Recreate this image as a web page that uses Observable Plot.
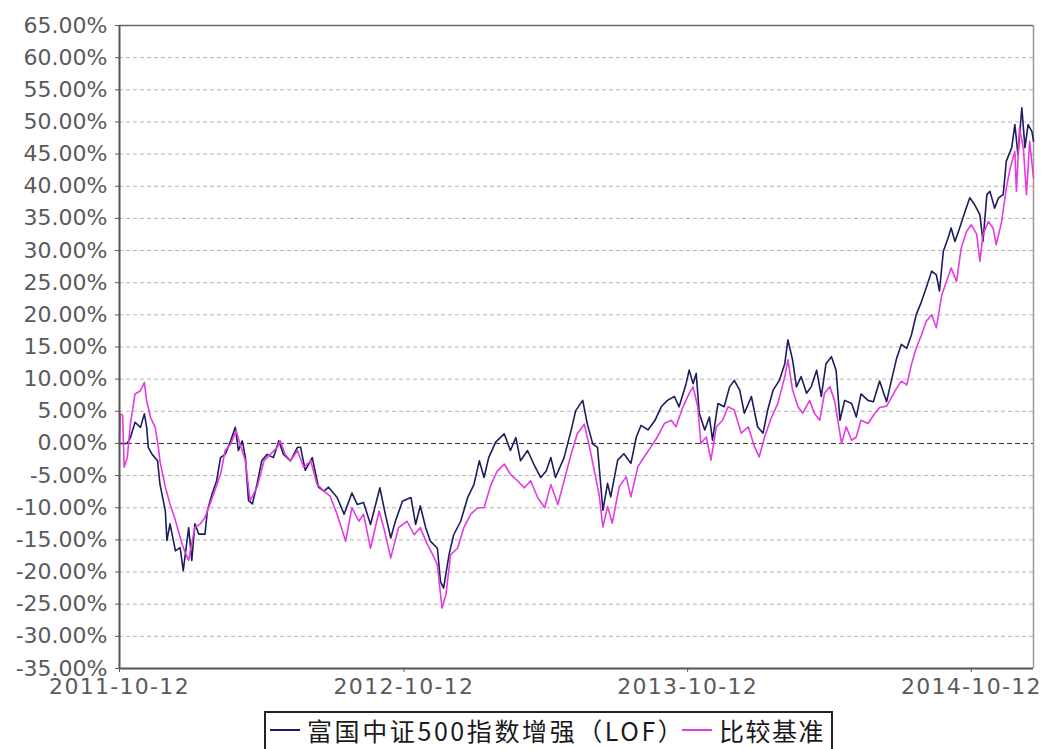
<!DOCTYPE html>
<html>
<head>
<meta charset="utf-8">
<script src="https://cdn.jsdelivr.net/npm/d3@7"></script>
<script src="https://cdn.jsdelivr.net/npm/@observablehq/plot@0.6"></script>
<style>
  html, body { margin: 0; padding: 0; background: #fff; }
  #wrap { position: relative; width: 1041px; height: 749px; overflow: hidden; background: #fff; }
  #chart { position: absolute; left: 0; top: 0; }
  #chart g[aria-label="x-axis tick label"] text { letter-spacing: 1.3px; }
  #legend {
    position: absolute; left: 264px; top: 711px; width: 569px; height: 60px;
    box-sizing: border-box; border: 2px solid #222; background: #fff;
    font-family: "Noto Sans CJK SC", sans-serif; font-size: 25px; color: #1a1a1a;
  }
  #legend .row { position: absolute; left: 0; top: 0; height: 34px; width: 100%; }
  #legend .item { position: absolute; top: 0; height: 34px; display: flex; align-items: center; white-space: nowrap; line-height: 1; }
  #legend .sw { display: inline-block; width: 30px; height: 2px; margin-right: 7px; }
  #legend .tx { display: inline-block; line-height: 25px; height: 25px; }
</style>
</head>
<body>
<div id="wrap">
  <div id="chart"></div>
  <div id="legend"><div class="row"></div></div>
</div>
<script>
const seriesNames = ["富国中证500指数增强（LOF）", "比较基准"];
const seriesColors = ["#1c1c5e", "#e23ce2"];

const yTicks = [-35, -30, -25, -20, -15, -10, -5, 0, 5, 10, 15, 20, 25, 30, 35, 40, 45, 50, 55, 60, 65];
const xTicks = ["2011-10-12", "2012-10-12", "2013-10-12", "2014-10-12"];
const xDomain = ["2011-10-12", "2014-12-31"];

const fundDates = [
"2011-10-12","2011-10-22","2011-10-26","2011-11-01","2011-11-08","2011-11-13","2011-11-16","2011-11-18","2011-11-23","2011-11-30",
"2011-12-03","2011-12-10","2011-12-12","2011-12-16","2011-12-23","2011-12-29","2012-01-02","2012-01-09","2012-01-13","2012-01-17",
"2012-01-22","2012-01-30","2012-02-02","2012-02-08","2012-02-14","2012-02-19","2012-02-25","2012-03-03","2012-03-09","2012-03-13",
"2012-03-18","2012-03-22","2012-03-26","2012-03-31","2012-04-06","2012-04-12","2012-04-19","2012-04-27","2012-05-04","2012-05-10",
"2012-05-19","2012-05-28","2012-06-01","2012-06-07","2012-06-16","2012-06-24","2012-07-01","2012-07-07","2012-07-18","2012-07-27",
"2012-08-06","2012-08-13","2012-08-21","2012-08-30","2012-09-11","2012-09-18","2012-09-25","2012-10-01","2012-10-10","2012-10-21",
"2012-10-27","2012-11-02","2012-11-09","2012-11-15","2012-11-24","2012-11-28","2012-12-02","2012-12-09","2012-12-15","2012-12-24",
"2013-01-02","2013-01-10","2013-01-17","2013-01-23","2013-01-29","2013-02-07","2013-02-18","2013-02-26","2013-03-05","2013-03-11",
"2013-03-20","2013-03-28","2013-04-06","2013-04-13","2013-04-19","2013-04-25","2013-05-06","2013-05-15","2013-05-21","2013-05-30",
"2013-06-05","2013-06-12","2013-06-18","2013-06-25","2013-07-01","2013-07-05","2013-07-14","2013-07-22","2013-07-31","2013-08-07",
"2013-08-13","2013-08-22","2013-08-31","2013-09-08","2013-09-16","2013-09-25","2013-10-01","2013-10-10","2013-10-14","2013-10-19",
"2013-10-23","2013-10-27","2013-11-03","2013-11-09","2013-11-13","2013-11-20","2013-11-28","2013-12-05","2013-12-11","2013-12-18",
"2013-12-24","2014-01-02","2014-01-10","2014-01-17","2014-01-23","2014-01-30","2014-02-07","2014-02-14","2014-02-18","2014-02-24",
"2014-03-01","2014-03-07","2014-03-14","2014-03-20","2014-03-27","2014-04-02","2014-04-08","2014-04-15","2014-04-21","2014-04-26",
"2014-05-02","2014-05-11","2014-05-17","2014-05-23","2014-06-01","2014-06-08","2014-06-16","2014-06-25","2014-07-01","2014-07-08",
"2014-07-14","2014-07-21","2014-07-27","2014-08-02","2014-08-09","2014-08-15","2014-08-22","2014-08-28","2014-09-01","2014-09-06",
"2014-09-12","2014-09-16","2014-09-21","2014-09-27","2014-10-04","2014-10-10","2014-10-16","2014-10-23","2014-10-27","2014-11-01",
"2014-11-05","2014-11-11","2014-11-16","2014-11-22","2014-11-26","2014-12-03","2014-12-07","2014-12-11","2014-12-16","2014-12-20",
"2014-12-24","2014-12-29","2014-12-31"];
const fundValues = [
0,0,0.9,3.3,2.5,4.6,2.5,-0.6,-1.7,-2.7,
-6.3,-10.5,-15.1,-12.5,-16.7,-16.2,-19.8,-13.1,-18.2,-12.5,
-14.1,-14.1,-10.5,-7.9,-5.8,-2.2,-1.7,0.4,2.5,-1.1,
0.4,-2.2,-8.9,-9.4,-6.3,-2.7,-1.7,-2.2,0.4,-1.7,
-2.7,-0.6,-0.6,-4.2,-2.2,-6.8,-7.4,-6.8,-8.4,-11.0,
-7.7,-9.5,-9.2,-12.6,-6.9,-11.0,-14.7,-12.1,-9.0,-8.4,
-12.6,-9.7,-13.1,-15.2,-16.3,-21.5,-22.5,-17.3,-14.2,-12.1,
-8.4,-6.4,-2.7,-5.3,-2.2,0.2,1.5,-1.1,0.9,-2.7,
-1.1,-3.2,-5.3,-4.3,-2.2,-5.3,-2.2,2.0,5.1,6.7,
3.0,-0.1,-0.6,-10.4,-6.2,-8.3,-2.6,-1.6,-3.1,1.0,
2.8,2.1,3.6,5.7,6.7,7.3,5.7,9.3,11.4,9.3,
10.9,4.7,2.1,4.1,0.5,6.2,5.7,8.8,9.8,8.3,
4.7,7.3,2.6,1.6,5.2,8.3,9.8,12.4,16.1,13.0,
8.8,10.4,7.8,8.8,11.4,7.3,12.4,13.5,11.4,3.6,
6.7,6.2,4.1,7.7,6.7,6.5,9.7,6.5,9.7,13.3,
15.4,14.8,16.9,20.0,22.1,24.2,26.8,26.2,23.7,29.9,
31.9,33.5,31.4,33.5,36.1,38.2,37.2,35.6,31.4,38.7,
39.2,36.6,38.2,38.7,43.9,46.0,49.6,44.9,52.2,46.0,
49.6,48.5,47.0];

const benchDates = [
"2011-10-12","2011-10-13","2011-10-16","2011-10-18","2011-10-22","2011-10-26","2011-11-01","2011-11-08","2011-11-13","2011-11-16",
"2011-11-21","2011-11-27","2011-12-01","2011-12-03","2011-12-10","2011-12-16","2011-12-23","2011-12-29","2012-01-02","2012-01-09",
"2012-01-13","2012-01-17","2012-01-24","2012-01-30","2012-02-04","2012-02-10","2012-02-19","2012-02-25","2012-03-03","2012-03-10",
"2012-03-15","2012-03-22","2012-03-28","2012-04-06","2012-04-15","2012-04-23","2012-05-02","2012-05-06","2012-05-12","2012-05-19",
"2012-05-28","2012-06-05","2012-06-14","2012-06-22","2012-07-01","2012-07-09","2012-07-18","2012-07-29","2012-08-06","2012-08-15",
"2012-08-21","2012-08-30","2012-09-10","2012-09-16","2012-09-25","2012-10-05","2012-10-16","2012-10-25","2012-11-02","2012-11-11",
"2012-11-18","2012-11-24","2012-11-30","2012-12-05","2012-12-11","2012-12-20","2012-12-28","2013-01-06","2013-01-15","2013-01-23",
"2013-02-01","2013-02-09","2013-02-18","2013-02-26","2013-03-07","2013-03-16","2013-03-24","2013-04-02","2013-04-11","2013-04-19",
"2013-04-28","2013-05-06","2013-05-15","2013-05-23","2013-06-01","2013-06-07","2013-06-14","2013-06-20","2013-06-25","2013-07-01",
"2013-07-07","2013-07-16","2013-07-25","2013-07-31","2013-08-09","2013-08-17","2013-08-26","2013-09-03","2013-09-12","2013-09-21",
"2013-09-27","2013-10-06","2013-10-14","2013-10-19","2013-10-25","2013-10-29","2013-11-05","2013-11-11","2013-11-18","2013-11-26",
"2013-12-03","2013-12-11","2013-12-20","2013-12-29","2014-01-06","2014-01-12","2014-01-19","2014-01-28","2014-02-05","2014-02-14",
"2014-02-18","2014-02-24","2014-03-03","2014-03-09","2014-03-18","2014-03-24","2014-03-31","2014-04-06","2014-04-13","2014-04-19",
"2014-04-28","2014-05-04","2014-05-11","2014-05-17","2014-05-23","2014-06-01","2014-06-10","2014-06-16","2014-06-25","2014-07-01",
"2014-07-08","2014-07-14","2014-07-21","2014-07-27","2014-08-02","2014-08-09","2014-08-15","2014-08-22","2014-08-28","2014-09-04",
"2014-09-10","2014-09-16","2014-09-23","2014-09-29","2014-10-06","2014-10-12","2014-10-19","2014-10-23","2014-10-27","2014-11-03",
"2014-11-09","2014-11-13","2014-11-20","2014-11-26","2014-12-01","2014-12-07","2014-12-09","2014-12-13","2014-12-18","2014-12-22",
"2014-12-26","2014-12-31"];
const benchValues = [
0,4.6,4.4,-3.7,-2.2,3.0,7.7,8.2,9.5,6.6,
4.0,2.5,-0.6,-2.7,-6.8,-9.4,-12.0,-14.6,-16.2,-18.2,
-15.5,-13.1,-12.5,-11.5,-9.9,-7.9,-4.8,-1.1,-0.1,2.0,
-0.1,-2.7,-8.9,-6.8,-2.7,-1.7,-0.6,0.4,-1.7,-2.7,
-1.1,-3.7,-2.7,-6.3,-7.4,-8.2,-11.0,-15.2,-10.0,-12.1,
-11.0,-16.3,-10.5,-13.1,-17.8,-13.1,-12.1,-14.2,-13.1,-15.7,
-17.3,-18.9,-25.6,-23.5,-17.3,-16.3,-13.1,-11.0,-10.0,-10.0,
-6.4,-4.3,-3.2,-4.8,-5.8,-6.9,-5.8,-8.4,-10.0,-6.4,
-9.5,-5.8,-1.7,1.5,3.0,-0.1,-4.3,-7.9,-13.0,-9.8,
-12.4,-6.7,-5.2,-8.3,-3.6,-2.1,-0.5,1.0,3.1,3.6,
2.6,5.7,7.8,8.8,5.7,0,1.0,-2.6,2.6,3.6,
5.7,5.2,1.6,2.6,-0.5,-2.1,1.0,4.1,6.2,10.4,
13.0,8.3,5.7,4.7,6.7,4.7,3.6,7.8,8.8,6.7,
0,2.6,0.5,1.0,3.6,3.1,4.7,5.6,5.8,7.1,
8.6,9.7,9.1,12.3,14.8,16.9,19.0,20.0,18.0,23.1,
25.2,27.3,25.2,30.4,33.0,34.0,32.5,28.3,32.5,34.5,
33.5,30.9,34.5,39.7,42.8,45.4,39.2,49.0,45.9,38.7,
47.0,41.3];

const fund = fundDates.map((d, i) => ({date: new Date(d), value: fundValues[i]}));
const bench = benchDates.map((d, i) => ({date: new Date(d), value: benchValues[i]}));
const x0 = new Date(xDomain[0]), x1 = new Date(xDomain[1]);

const chart = Plot.plot({
  width: 1041,
  height: 705,
  marginLeft: 119,
  marginRight: 8,
  marginTop: 25,
  marginBottom: 37,
  style: {fontFamily: "DejaVu Sans, sans-serif", fontSize: "22px", color: "#5a5a5a", background: "#fff"},
  x: {type: "utc", domain: [x0, x1]},
  y: {domain: [-35, 65]},
  marks: [
    Plot.ruleY(yTicks.filter(d => d !== 0 && d !== -35 && d !== 65), {stroke: "#b4b4b4", strokeWidth: 1, strokeDasharray: "4,3"}),
    Plot.ruleY([0], {stroke: "#333", strokeWidth: 1, strokeDasharray: "5,3"}),
    Plot.ruleY([65], {stroke: "#666", strokeWidth: 1.5}),
    Plot.ruleX([x1], {stroke: "#999", strokeWidth: 1.5}),
    Plot.line(fund, {x: "date", y: "value", stroke: seriesColors[0], strokeWidth: 1.6}),
    Plot.line(bench, {x: "date", y: "value", stroke: seriesColors[1], strokeWidth: 1.6}),
    Plot.ruleX([x0], {stroke: "#555", strokeWidth: 2}),
    Plot.ruleY([-35], {stroke: "#555", strokeWidth: 2}),
    Plot.axisY({ticks: yTicks, tickFormat: d => d.toFixed(2) + "%", tickSize: 4, tickPadding: 8, label: null}),
    Plot.axisX({ticks: xTicks.map(d => new Date(d)), tickFormat: d3.utcFormat("%Y-%m-%d"), tickSize: 4, tickPadding: 6, label: null})
  ]
});
document.getElementById("chart").appendChild(chart);

// legend
const row = document.querySelector("#legend .row");
const legendPos = [4, 416];
const legendSpacing = ["2.6px", "1.5px"];
seriesNames.forEach((name, i) => {
  const item = document.createElement("div");
  item.className = "item";
  item.style.left = legendPos[i] + "px";
  const sw = document.createElement("span");
  sw.className = "sw";
  sw.style.background = seriesColors[i];
  const tx = document.createElement("span");
  tx.className = "tx";
  tx.style.letterSpacing = legendSpacing[i];
  tx.textContent = name;
  item.appendChild(sw);
  item.appendChild(tx);
  row.appendChild(item);
});
</script>
</body>
</html>
